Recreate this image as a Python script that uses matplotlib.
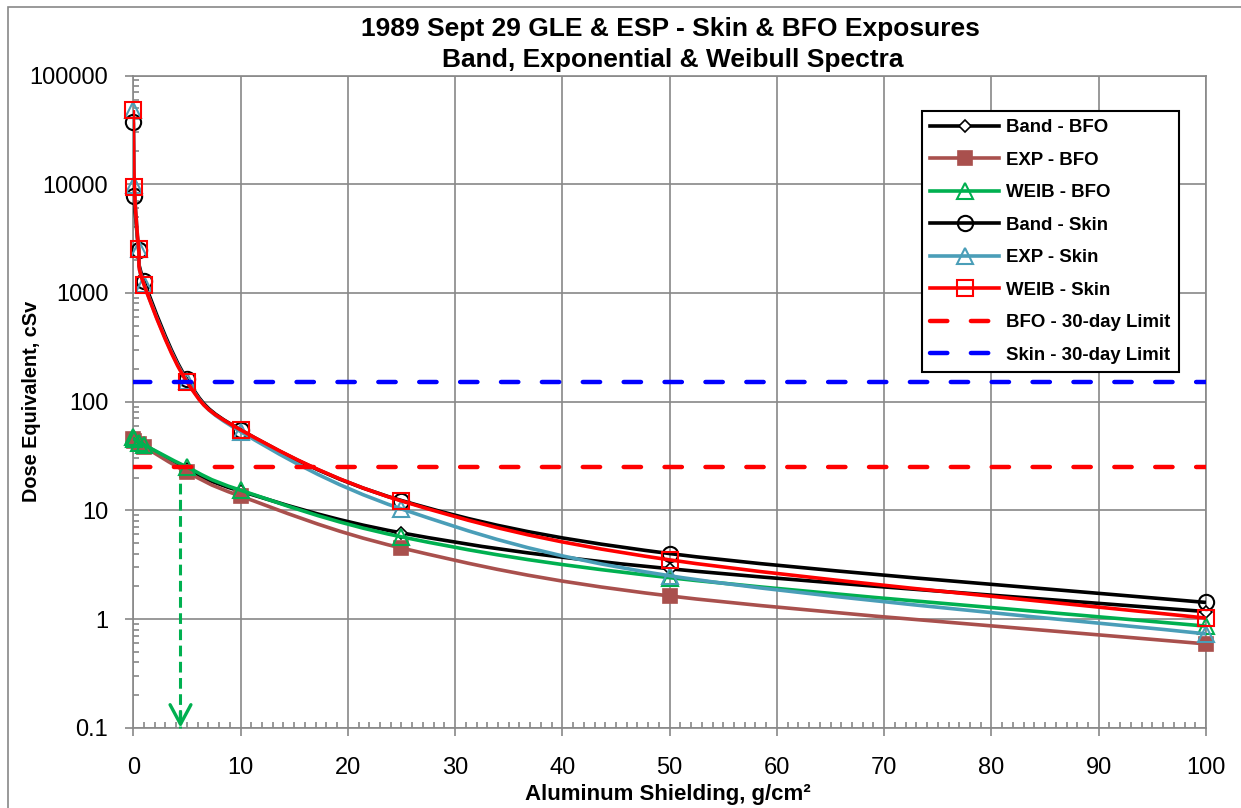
import numpy as np
import matplotlib
matplotlib.use("Agg")
import matplotlib.pyplot as plt
from matplotlib.path import Path
from matplotlib.patches import PathPatch, Rectangle
from matplotlib.lines import Line2D
from matplotlib.ticker import MultipleLocator, LogLocator, FuncFormatter, NullFormatter

plt.rcParams['font.family'] = ['Liberation Sans', 'DejaVu Sans']

# aluminum shielding depth, g/cm2
depth = [0, 0.1, 0.5, 1, 5, 10, 25, 50, 100]

# dose equivalent, cSv
band_bfo = [45, 44, 42, 40, 24, 15, 6.2, 2.9, 1.17]
exp_bfo = [45, 43, 41, 38.5, 22.5, 13.5, 4.5, 1.63, 0.59]
weib_bfo = [47, 45, 42, 40, 25, 15.3, 5.7, 2.4, 0.86]
band_skin = [37000, 7800, 2500, 1280, 160, 55, 12.3, 4.0, 1.42]
exp_skin = [48000, 9800, 2550, 1200, 155, 53, 10.3, 2.5, 0.73]
weib_skin = [48000, 9500, 2550, 1190, 152, 55, 12.2, 3.5, 1.02]

bfo_limit = 25
skin_limit = 150
arrow_x = 4.4   # depth where BFO hits the 30-day limit

labels = ['Band - BFO', 'EXP - BFO', 'WEIB - BFO', 'Band - Skin', 'EXP - Skin', 'WEIB - Skin',
          'BFO - 30-day Limit', 'Skin - 30-day Limit']

BLACK = '#000000'
BROWN = '#A9504D'
GREEN = '#00B050'
TEAL = '#4A9EB8'
RED = '#FF0000'
BLUE = '#0000FF'
GREY = '#888888'


def smooth_path(x, y):
    # excel-like smoothed line: bezier segments in (x, log y) space
    px = np.array(x, float)
    py = np.log10(np.array(y, float))
    n = len(px)
    verts = [(px[0], py[0])]
    codes = [Path.MOVETO]
    for i in range(n - 1):
        i0 = max(i - 1, 0)
        i3 = min(i + 2, n - 1)
        c1 = (px[i] + (px[i + 1] - px[i0]) / 6, py[i] + (py[i + 1] - py[i0]) / 6)
        c2 = (px[i + 1] - (px[i3] - px[i]) / 6, py[i + 1] - (py[i3] - py[i]) / 6)
        verts += [c1, c2, (px[i + 1], py[i + 1])]
        codes += [Path.CURVE4] * 3
    verts = np.array(verts)
    verts[:, 1] = 10 ** verts[:, 1]
    return Path(verts, codes)


fig = plt.figure(figsize=(12.41, 8.08), dpi=100)
ax = fig.add_axes([133.3 / 1241, 1 - 727.7 / 808, (1206 - 133.3) / 1241, (727.7 - 75.5) / 808])

ax.set_yscale('log')
ax.set_xlim(0, 100)
ax.set_ylim(0.1, 100000)

lw = 2.6
series = [
    (band_bfo, BLACK, dict(marker='D', ms=6, mfc='white', mec=BLACK, mew=1.2)),
    (exp_bfo, BROWN, dict(marker='s', ms=10, mfc=BROWN, mec=BROWN, mew=1.2)),
    (weib_bfo, GREEN, dict(marker='^', ms=11, mfc='none', mec=GREEN, mew=1.5)),
    (band_skin, BLACK, dict(marker='o', ms=11, mfc='none', mec=BLACK, mew=1.5)),
    (exp_skin, TEAL, dict(marker='^', ms=11, mfc='none', mec=TEAL, mew=1.5)),
    (weib_skin, RED, dict(marker='s', ms=11, mfc='none', mec=RED, mew=1.5)),
]

handles = []
for k, (vals, col, mk) in enumerate(series):
    patch = PathPatch(smooth_path(depth, vals), facecolor='none', edgecolor=col, lw=lw,
                      transform=ax.transData, zorder=3 + k * 0.1)
    ax.add_patch(patch)
    ax.plot(depth, vals, ls='none', clip_on=False, zorder=3.05 + k * 0.1, **mk)
    handles.append(Line2D([], [], color=col, lw=lw, **mk))

# 30-day limits
dash_lw = 3.2
for lim, col in [(bfo_limit, RED), (skin_limit, BLUE)]:
    ax.plot([depth[0], depth[-1]], [lim, lim], color=col, lw=dash_lw, dashes=(3.9, 5.3),
            dash_capstyle='round', zorder=4)
    handles.append(Line2D([], [], color=col, lw=dash_lw, dashes=(3.9, 5.3), dash_capstyle='round'))

# green arrow marking required shielding
ax.plot([arrow_x, arrow_x], [bfo_limit, 0.1], color=GREEN, lw=2.2, ls=(0, (3.5, 1.8)),
        clip_on=False, zorder=2.9)
ax.annotate('', xy=(arrow_x, 0.1), xytext=(arrow_x, 0.14),
            arrowprops=dict(arrowstyle='->,head_length=1.4,head_width=0.75', color=GREEN,
                            lw=2.4, shrinkA=0, shrinkB=0), annotation_clip=False, zorder=2.9)

# axes styling
ax.xaxis.set_major_locator(MultipleLocator(10))
ax.xaxis.set_minor_locator(MultipleLocator(1))
ax.yaxis.set_major_locator(LogLocator(base=10, numticks=20))
ax.yaxis.set_minor_locator(LogLocator(base=10, subs=np.arange(2, 10), numticks=20))
ax.yaxis.set_major_formatter(FuncFormatter(lambda v, p: ('%g' % v) if v < 1 else '%d' % round(v)))
ax.yaxis.set_minor_formatter(NullFormatter())

ax.grid(True, which='major', color=GREY, lw=1.2)
ax.set_axisbelow(True)
for s in ax.spines.values():
    s.set_color(GREY)
    s.set_linewidth(1.2)

ax.tick_params(axis='both', which='major', direction='out', length=6, width=1.2, color=GREY,
               labelsize=17, labelcolor='black')
ax.tick_params(axis='x', which='major', pad=15)
ax.tick_params(axis='y', which='major', pad=12)
ax.tick_params(axis='both', which='minor', direction='in', length=4, width=1.2, color=GREY)

ax.set_xlabel('Aluminum Shielding, g/cm\u00b2', fontsize=16, fontweight='bold', va='baseline')
ax.set_ylabel('Dose Equivalent, cSv', fontsize=14.3, fontweight='bold')
ax.xaxis.set_label_coords(0.4985, (727.7 - 800) / 652.2)
ax.yaxis.set_label_coords(-0.086, 0.5)

fig.text(670.5 / 1241, 1 - 36 / 808, '1989 Sept 29 GLE & ESP - Skin & BFO Exposures',
         ha='center', va='baseline', fontsize=19, fontweight='bold')
fig.text(672.5 / 1241, 1 - 67 / 808, 'Band, Exponential & Weibull Spectra',
         ha='center', va='baseline', fontsize=19, fontweight='bold')

leg = ax.legend(handles, labels, loc='upper left', bbox_to_anchor=(921.7 / 1241, 1 - 111 / 808),
                bbox_transform=fig.transFigure, borderaxespad=0,
                prop={'weight': 'bold', 'size': 13.4}, handlelength=3.7, handletextpad=0.4,
                labelspacing=0.83, borderpad=0.45, fancybox=False, framealpha=1,
                edgecolor='black')
leg.get_frame().set_linewidth(1.5)
leg.set_zorder(10)

# outer chart border
fig.patches.append(Rectangle((8.3 / 1241, -0.05), 1.0, 1 - 7.3 / 808 + 0.05, transform=fig.transFigure,
                             fill=False, edgecolor=GREY, lw=1.2))

fig.savefig('out.png', dpi=100)
